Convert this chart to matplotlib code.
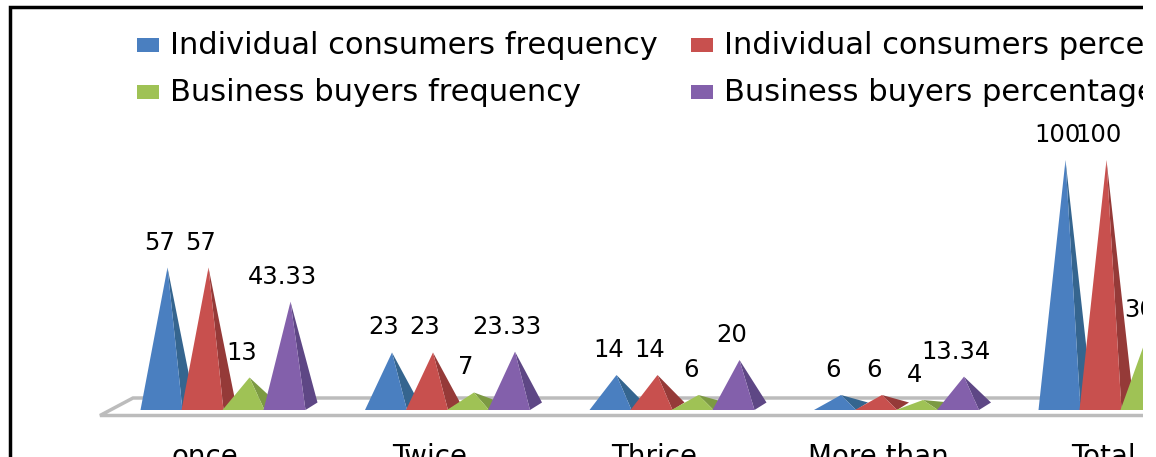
import matplotlib
matplotlib.use("Agg")
import matplotlib.pyplot as plt
from matplotlib.patches import Polygon, Rectangle

categories = ["once", "Twice", "Thrice", "More than", "Total"]
series_names = ["Individual consumers frequency", "Individual consumers percentage",
                "Business buyers frequency", "Business buyers percentage"]
ind_freq = [57, 23, 14, 6, 100]
ind_pct = [57, 23, 14, 6, 100]
bus_freq = [13, 7, 6, 4, 30]
bus_pct = [43.33, 23.33, 20, 13.34, 100]
series = [ind_freq, ind_pct, bus_freq, bus_pct]

front_colors = ["#4a7fc0", "#c8504e", "#9fc255", "#8360ab"]
side_colors = ["#35658f", "#953a38", "#7c9a42", "#5e4785"]

plt.rcParams["font.family"] = "DejaVu Sans"

# pixel scale of the picture
W, H = 1156, 457
clip_w = 1143
group_px = 224.5
y_px = 2.5
x0 = 229
y0 = 410

fig = plt.figure(figsize=(W / 100, H / 100), dpi=100)
ax = fig.add_axes([0, 0, clip_w / W, 1])
ax.set_xlim(-x0 / group_px, (clip_w - x0) / group_px)
ax.set_ylim(-(H - y0) / y_px, y0 / y_px)
ax.axis("off")

# floor of the 3d chart
floor_color = "#bcbcbc"
right = ax.get_xlim()[1]
left_front = (100 - x0) / group_px
left_back = (133 - x0) / group_px
ax.plot([right, left_front, left_back, right], [-2.2, -2.2, 4.8, 4.8],
        color=floor_color, lw=2.5, solid_joinstyle="miter", zorder=1)

# pyramids
step = 41 / group_px
for i, values in enumerate(series):
    for g, v in enumerate(values):
        x = g + (i - 1.5) * step
        l = x - 27 / group_px
        r = x + 15 / group_px
        back = x + 27 / group_px
        z = 2 + g * 10 + i
        ax.add_patch(Polygon([(x, v), (r, 0), (back, 3)], color=side_colors[i], lw=0, zorder=z))
        ax.add_patch(Polygon([(x, v), (l, 0), (r, 0)], color=front_colors[i], lw=0, zorder=z))
        ax.annotate(str(v), (x, v), xytext=(-8, 25), textcoords="offset pixels",
                    ha="center", va="center", fontsize=17.5, color="black",
                    annotation_clip=False, clip_on=True, zorder=100)

# category labels, cut by the bottom edge like the original
for g, c in enumerate(categories):
    ax.annotate(c, (g, 0), xytext=(-24, -55), textcoords="offset pixels",
                ha="center", va="baseline", fontsize=20, color="black", clip_on=True)

# legend by hand so that it gets cut at the right edge
legend_x = [137, 137, 691, 691]
legend_y = [45, 92, 45, 92]
order = [0, 2, 1, 3]
for k, i in enumerate(order):
    px, py = legend_x[k], legend_y[k]
    ax.add_patch(Rectangle((px / clip_w, 1 - (py + 7) / H), 22 / clip_w, 14 / H,
                           transform=ax.transAxes, color=front_colors[i], lw=0))
    ax.text((px + 33) / clip_w, 1 - py / H, series_names[i], transform=ax.transAxes,
            ha="left", va="center", fontsize=22, color="black", clip_on=True)

# black frame, only top and left are visible
ax.plot([9.5 / clip_w, 9.5 / clip_w, 1], [0, 1 - 7 / H, 1 - 7 / H], transform=ax.transAxes,
        color="black", lw=2.5, solid_joinstyle="miter", zorder=200)

fig.savefig("out.png", dpi=100)
